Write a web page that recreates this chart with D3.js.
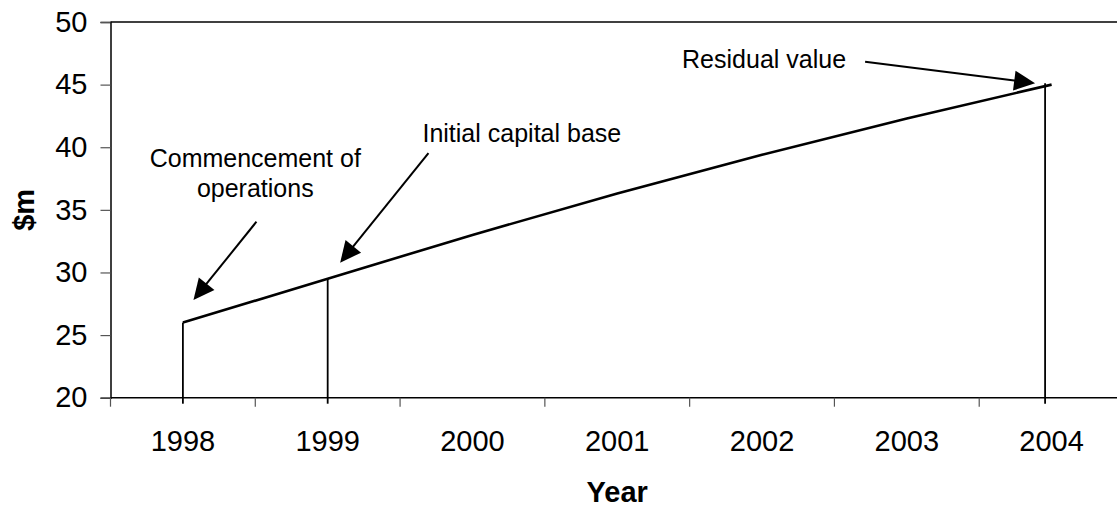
<!DOCTYPE html>
<html>
<head>
<meta charset="utf-8">
<script src="https://cdn.jsdelivr.net/npm/d3@7"></script>
<style>
  html, body { margin: 0; padding: 0; background: #fff; }
  svg { display: block; font-family: "Liberation Sans", Arial, sans-serif; }
</style>
</head>
<body>
<svg id="chart" width="1117" height="506"></svg>
<script>
// Asset value by year ($m)
const years = ["1998", "1999", "2000", "2001", "2002", "2003", "2004"];
const values = [26, 29.5, 33, 36.3, 39.4, 42.3, 45];
const yTicks = [20, 25, 30, 35, 40, 45, 50];

// Vertical markers: [year position, value]
const dropYears = [1998, 1999, 2003.955];
const dropValues = [26, 29.5, 45.1];

// Callouts: text lines, text anchor (year, value), arrow tail and tip (year, value)
const noteLabels = [["Commencement of", "operations"], ["Initial capital base"], ["Residual value"]];
const noteText = [[1998.5, 38.44], [2000.341, 40.44], [2002.014, 46.3]];
const noteTail = [[1998.508, 34.05], [1999.696, 39.52], [2002.712, 46.83]];
const noteTip = [[1998.073, 27.8], [1999.086, 30.78], [2003.886, 45.11]];

(function () {
const svg = d3.select("#chart");
const mLeft = 110.5, mTop = 22, mBottom = 397.7, mRight = 1124;

const x = d3.scaleBand().domain(years).range([mLeft, mRight]);
const xYear = d3.scaleLinear().domain([1997.5, 2004.5]).range([mLeft, mRight]);
const y = d3.scaleLinear().domain([20, 50]).range([mBottom, mTop]);

// Plot frame top edge
svg.append("line")
  .attr("x1", mLeft).attr("x2", mRight).attr("y1", mTop).attr("y2", mTop)
  .attr("stroke", "#000").attr("stroke-width", 1.5);

// Y axis
const yAxis = svg.append("g")
  .attr("transform", `translate(${mLeft},0)`)
  .call(d3.axisLeft(y).tickValues(yTicks).tickSize(10).tickPadding(13).tickFormat(d3.format("d")));
yAxis.select(".domain").attr("stroke", "#000").attr("stroke-width", 1.5);
yAxis.selectAll(".tick line").attr("stroke", "#555").attr("stroke-width", 1.2);
yAxis.selectAll("text").attr("font-size", 29).attr("fill", "#000")
  .attr("font-family", "'Liberation Sans', Arial, sans-serif");

// X axis: ticks at category boundaries, labels at centres
const xAxis = svg.append("g").attr("transform", `translate(0,${mBottom})`);
xAxis.append("line")
  .attr("x1", mLeft).attr("x2", mRight).attr("y1", 0).attr("y2", 0)
  .attr("stroke", "#000").attr("stroke-width", 1.5);
const bounds = years.map(d => x(d)).concat([mRight]);
xAxis.selectAll("line.tick").data(bounds).join("line")
  .attr("class", "tick")
  .attr("x1", d => d).attr("x2", d => d).attr("y1", 0).attr("y2", 9)
  .attr("stroke", "#555").attr("stroke-width", 1.2);
xAxis.selectAll("text.lab").data(years).join("text")
  .attr("class", "lab")
  .attr("x", d => x(d) + x.bandwidth() / 2)
  .attr("y", 53.5)
  .attr("text-anchor", "middle")
  .attr("font-size", 29)
  .text(d => d);

// Axis titles
svg.append("text")
  .attr("x", (mLeft + mRight) / 2).attr("y", 501.5)
  .attr("text-anchor", "middle").attr("font-size", 29).attr("font-weight", "bold")
  .text("Year");
svg.append("text")
  .attr("transform", `translate(33.5,${(mTop + mBottom) / 2}) rotate(-90)`)
  .attr("text-anchor", "middle").attr("font-size", 29).attr("font-weight", "bold")
  .text("$m");

// Vertical markers
svg.selectAll("line.drop").data(dropYears).join("line")
  .attr("class", "drop")
  .attr("x1", d => xYear(d)).attr("x2", d => xYear(d))
  .attr("y1", mBottom + 6).attr("y2", (d, i) => y(dropValues[i]))
  .attr("stroke", "#000").attr("stroke-width", 1.8);

// Value line
const pts = years.map((d, i) => [x(d) + x.bandwidth() / 2, y(values[i])]);
svg.append("path")
  .attr("d", d3.line()(pts))
  .attr("fill", "none").attr("stroke", "#000").attr("stroke-width", 2.6)
  .attr("stroke-linejoin", "miter");

// Callout text
noteLabels.forEach((lines, i) => {
  const t = svg.append("text")
    .attr("x", xYear(noteText[i][0])).attr("y", y(noteText[i][1]))
    .attr("text-anchor", "middle").attr("font-size", 25);
  lines.forEach((s, j) => {
    t.append("tspan").attr("x", xYear(noteText[i][0])).attr("dy", j === 0 ? 0 : 30).text(s);
  });
});

// Callout arrows
const headLen = 21, headHalf = 10;
noteTail.forEach((tail, i) => {
  const x0 = xYear(tail[0]), y0 = y(tail[1]);
  const x1 = xYear(noteTip[i][0]), y1 = y(noteTip[i][1]);
  const dx = x1 - x0, dy = y1 - y0, len = Math.hypot(dx, dy);
  const ux = dx / len, uy = dy / len;
  const bx = x1 - ux * headLen, by = y1 - uy * headLen;
  svg.append("line")
    .attr("x1", x0).attr("y1", y0).attr("x2", bx + ux * 2).attr("y2", by + uy * 2)
    .attr("stroke", "#000").attr("stroke-width", 2);
  svg.append("path")
    .attr("d", d3.line()([[x1, y1], [bx - uy * headHalf, by + ux * headHalf], [bx + uy * headHalf, by - ux * headHalf]]) + "Z")
    .attr("fill", "#000");
});
})();
</script>
</body>
</html>
